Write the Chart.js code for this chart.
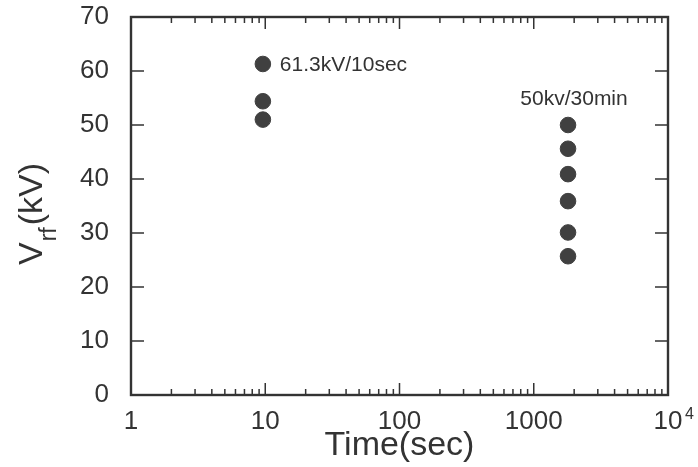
<!DOCTYPE html>
<html>
<head>
<meta charset="utf-8">
<script src="https://cdn.jsdelivr.net/npm/chart.js@4.4.1/dist/chart.umd.min.js"></script>
<style>
  html, body { margin: 0; padding: 0; background: #fff; }
  #wrap { width: 698px; height: 467px; }
</style>
</head>
<body>
<div id="wrap"><canvas id="chart" width="698" height="467"></canvas></div>
<script>
// data
const shortTime = [9.6, 9.6, 9.6];
const shortVolts = [61.3, 54.4, 51.0];
const longTime = [1800, 1800, 1800, 1800, 1800, 1800];
const longVolts = [50.0, 45.6, 40.9, 35.9, 30.1, 25.7];

const xMajorTicks = [1, 10, 100, 1000, 10000];
const xTickLabels = ['1', '10', '100', '1000', '10'];  // last one gets a superscript 4
const xDecades = [1, 10, 100, 1000];
const xMinorSteps = [2, 3, 4, 5, 6, 7, 8, 9];
const yTicks = [0, 10, 20, 30, 40, 50, 60, 70];

const ink = '#333333';
const dot = '#404040';
const font = '"Liberation Sans", Arial, Helvetica, sans-serif';

// frame, inward ticks, notes and the subscripted y title
const decor = {
  id: 'decor',
  beforeDatasetsDraw(chart) {
    const { ctx, chartArea: a, scales: { x, y } } = chart;
    ctx.save();
    ctx.strokeStyle = ink;
    ctx.lineWidth = 1.5;
    ctx.beginPath();
    xDecades.forEach(d => xMinorSteps.forEach(m => {
      const px = x.getPixelForValue(d * m);
      ctx.moveTo(px, a.bottom); ctx.lineTo(px, a.bottom - 6);
      ctx.moveTo(px, a.top); ctx.lineTo(px, a.top + 6);
    }));
    xMajorTicks.slice(1, -1).forEach(v => {
      const px = x.getPixelForValue(v);
      ctx.moveTo(px, a.bottom); ctx.lineTo(px, a.bottom - 12);
      ctx.moveTo(px, a.top); ctx.lineTo(px, a.top + 12);
    });
    yTicks.slice(1, -1).forEach(v => {
      const py = y.getPixelForValue(v);
      ctx.moveTo(a.left, py); ctx.lineTo(a.left + 13, py);
      ctx.moveTo(a.right, py); ctx.lineTo(a.right - 13, py);
    });
    ctx.stroke();

    ctx.lineWidth = 2.4;
    ctx.strokeRect(a.left, a.top, a.right - a.left, a.bottom - a.top);

    ctx.fillStyle = ink;
    ctx.font = '21px ' + font;
    ctx.textBaseline = 'alphabetic';
    ctx.textAlign = 'left';
    ctx.fillText('61.3kV/10sec', x.getPixelForValue(shortTime[0]) + 17, y.getPixelForValue(shortVolts[0]) + 7);
    ctx.textAlign = 'center';
    ctx.fillText('50kv/30min', x.getPixelForValue(longTime[0]) + 6, y.getPixelForValue(longVolts[0]) - 20);

    // exponent of the last x tick label
    ctx.textAlign = 'left';
    ctx.font = '16px ' + font;
    ctx.fillText('4', x.getPixelForValue(xMajorTicks[4]) + 17, a.bottom + 24);

    // y axis title: V with subscript rf, then (kV)
    ctx.translate(42, 265);
    ctx.rotate(-Math.PI / 2);
    ctx.font = '34px ' + font;
    ctx.fillText('V', 0, 0);
    let w = ctx.measureText('V').width + 1;
    ctx.font = '23px ' + font;
    ctx.fillText('rf', w, 14);
    w += ctx.measureText('rf').width + 2;
    ctx.font = '34px ' + font;
    ctx.fillText('(kV)', w, 0);
    ctx.restore();
  }
};

new Chart(document.getElementById('chart'), {
  type: 'scatter',
  data: {
    datasets: [
      {
        label: '61.3kV/10sec',
        data: shortTime.map((t, i) => ({ x: t, y: shortVolts[i] })),
        backgroundColor: dot, borderColor: dot, pointRadius: 7.8, pointHoverRadius: 7.8
      },
      {
        label: '50kv/30min',
        data: longTime.map((t, i) => ({ x: t, y: longVolts[i] })),
        backgroundColor: dot, borderColor: dot, pointRadius: 7.8, pointHoverRadius: 7.8
      }
    ]
  },
  options: {
    responsive: false,
    animation: false,
    layout: { padding: { top: 17, right: 30, left: 0, bottom: 0 } },
    plugins: { legend: { display: false }, tooltip: { enabled: false } },
    scales: {
      x: {
        type: 'logarithmic',
        min: 1, max: 10000,
        afterBuildTicks: s => { s.ticks = xMajorTicks.map(v => ({ value: v })); },
        afterFit: s => { s.height = 72; s.paddingLeft = 0; s.paddingRight = 0; },
        grid: { display: false },
        border: { display: false },
        ticks: {
          color: ink, padding: 3, maxRotation: 0, autoSkip: false,
          font: { family: font, size: 26 },
          callback: v => xTickLabels[xMajorTicks.indexOf(v)] ?? ''
        },
        title: {
          display: true, text: 'Time(sec)', color: ink,
          font: { family: font, size: 34 }, padding: { top: 0, bottom: 1 }
        }
      },
      y: {
        min: 0, max: 70,
        afterBuildTicks: s => { s.ticks = yTicks.map(v => ({ value: v })); },
        afterFit: s => { s.width = 131; s.paddingTop = 0; s.paddingBottom = 0; },
        grid: { display: false },
        border: { display: false },
        ticks: { color: ink, padding: 14, font: { family: font, size: 26 } }
      }
    }
  },
  plugins: [decor]
});
</script>
</body>
</html>
